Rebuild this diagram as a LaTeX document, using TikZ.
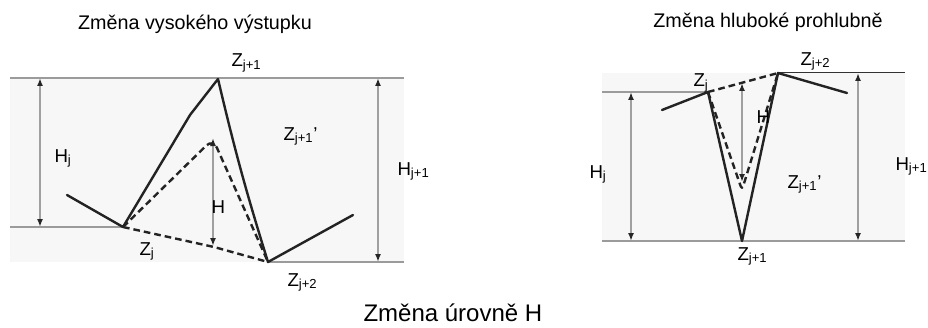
\documentclass[tikz,border=0pt]{standalone}
\usepackage{fontspec}
\setmainfont{Liberation Sans}
\usetikzlibrary{arrows.meta}

\tikzset{every picture/.style={line width=0.75pt}}
\tikzset{
  level/.style={color={rgb, 255:red, 155; green, 155; blue, 155 }, line width=1.1pt},
  profile/.style={color={rgb, 255:red, 35; green, 35; blue, 35 }, line width=1.8pt, line join=round, line cap=round},
  trace/.style={profile, line cap=butt, dash pattern={on 5pt off 3pt}},
  gauge/.style={color={rgb, 255:red, 160; green, 160; blue, 160 }, line width=1.4pt,
    {Latex[length=6pt,width=4.5pt,color=black!85]}-{Latex[length=6pt,width=4.5pt,color=black!85]}},
  lbl/.style={anchor=base west, inner sep=0pt, font=\fontsize{14}{16}\selectfont},
  headline/.style={anchor=base, inner sep=0pt, font=\fontsize{14.8}{17}\selectfont},
}

\begin{document}
\begin{tikzpicture}[x=0.75pt,y=0.75pt,yscale=-1,xscale=1]
\useasboundingbox (0,0) rectangle (928,328);

%%%%% left: high peak
%Shape: Rectangle [id:lbg]
\fill [black!3] (10,78) rectangle (404,262) ;
\coordinate (lA) at (67,195);
\coordinate (lZj) at (123,227);
\coordinate (lK) at (190,115);
\coordinate (lZj1) at (218,79);
\coordinate (lZj2) at (268,262);
\coordinate (lE) at (353,215);
\coordinate (lP) at (213,139);
\coordinate (lQ) at (214,247);
%Straight Lines [id:levels]
\draw [level] (10,78) -- (404,78) ;
\draw [level] (10,227) -- (lZj) ;
\draw [level] (lZj2) -- (404,262) ;
%Straight Lines [id:gauges]
\draw [gauge] (40,78) -- (40,227) ;
\draw [gauge] (378,78) -- (378,262) ;
\draw [gauge] (213,138) -- (213,246) ;
%Shape: Polyline [id:lprofile]
\draw [profile] (lA) -- (lZj) -- (lK) -- (lZj1) to[bend left=2] (lZj2) -- (lE) ;
%Shape: Polyline [id:ltrace]
\draw [trace, rounded corners=7pt] (lZj) -- (lP) -- (lZj2) ;
\draw [trace, rounded corners=3pt] (lZj) -- (lQ) -- (lZj2) ;

% Text Node
\node [headline] (ltitle) at (195,30) {Změna vysokého výstupku};
% Text Node
\node [lbl] (lzj1) at (231,67) {Z\textsubscript{j+1}};
% Text Node
\node [lbl] (lzj1p) at (283,140) {Z\textsubscript{j+1}'};
% Text Node
\node [lbl] (lhj) at (54,162) {H\textsubscript{j}};
% Text Node
\node [lbl] (lhj1) at (397,175) {H\textsubscript{j+1}};
% Text Node
\node [lbl] (lh) at (211,213) {H};
% Text Node
\node [lbl] (lzj) at (139,255) {Z\textsubscript{j}};
% Text Node
\node [lbl] (lzj2) at (287,286) {Z\textsubscript{j+2}};

%%%%% right: deep pit
%Shape: Rectangle [id:rbg]
\fill [black!3] (602,73) rectangle (905,241) ;
\coordinate (rA) at (662,110);
\coordinate (rZj) at (708,92);
\coordinate (rZj1) at (742,241);
\coordinate (rZj2) at (778,73);
\coordinate (rE) at (847,93);
\coordinate (rQ) at (742,190);
%Straight Lines [id:rlevels]
\draw [color=black!80] (rZj2) -- (905,73) ;
\draw [level] (602,92) -- (rZj) ;
\draw [level, line width=2.2pt] (602,241) -- (905,241) ;
%Straight Lines [id:rgauges]
\draw [gauge] (631,92) -- (631,241) ;
\draw [gauge] (858,73) -- (858,241) ;
\draw [gauge] (742,83) -- (742,182) ;
%Shape: Polyline [id:rprofile]
\draw [profile] (rA) -- (rZj) -- (rZj1) -- (rZj2) -- (rE) ;
%Shape: Polyline [id:rtrace]
\draw [trace] (rZj) -- (rZj2) ;
\draw [trace, rounded corners=3pt] (rZj) -- (rQ) -- (rZj2) ;

% Text Node
\node [headline] (rtitle) at (768,28) {Změna hluboké prohlubně};
% Text Node
\node [lbl] (rzj) at (693,87) {Z\textsubscript{j}};
% Text Node
\node [lbl] (rzj2) at (800,65) {Z\textsubscript{j+2}};
% Text Node
\node [lbl] (rh) at (756,123) {H};
% Text Node
\node [lbl] (rhj) at (589,178) {H\textsubscript{j}};
% Text Node
\node [lbl] (rzj1p) at (787,188) {Z\textsubscript{j+1}'};
% Text Node
\node [lbl] (rhj1) at (895,170) {H\textsubscript{j+1}};
% Text Node
\node [lbl] (rzj1) at (737,260) {Z\textsubscript{j+1}};

% Text Node
\node [anchor=base west, inner sep=0pt, font=\fontsize{18}{21}\selectfont] (caption) at (363,321) {Změna úrovně H};

\end{tikzpicture}
\end{document}
